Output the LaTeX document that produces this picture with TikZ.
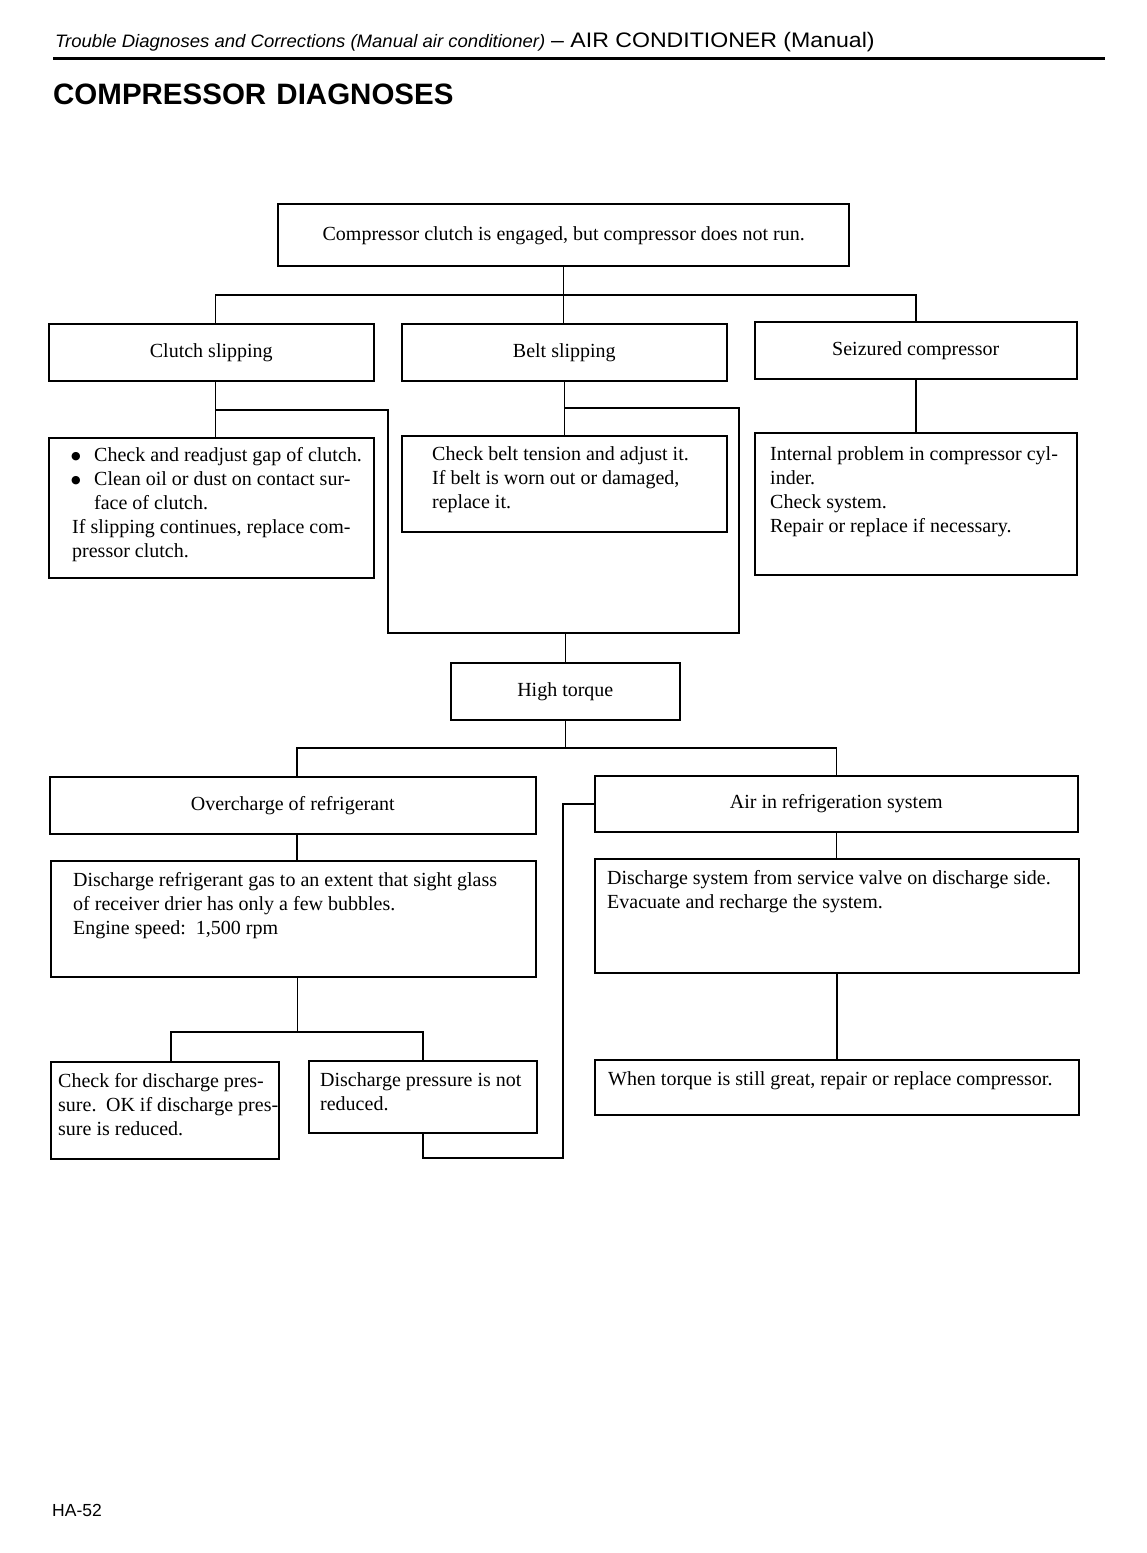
\documentclass[tikz,border=0pt]{standalone}
\usepackage{graphicx}
\usepackage{fontspec}
\setmainfont{Liberation Serif}
\newfontfamily\hdsans{Liberation Sans}
\newfontfamily\dgsym{DejaVu Sans}
\usetikzlibrary{calc}
\newcommand\dgbody{\fontsize{20}{24}\selectfont}
\newcommand\dgbul{\makebox[22pt][l]{\hspace*{-1pt}\raisebox{1.5pt}{\dgsym\fontsize{11}{11}\selectfont ●}}}
\begin{document}
\begin{tikzpicture}[x=1pt,y=-1pt,
  box/.style={draw, line width=1.6pt, inner sep=0pt, anchor=north west, font=\dgbody, text height=14pt, text depth=4pt},
  conn/.style={line width=1.5pt},
  txt/.style={anchor=base west, inner sep=0pt, font=\dgbody},
  hdr/.style={anchor=base west, inner sep=0pt}]
\fill[white] (0,0) rectangle (1147,1553);
\useasboundingbox (0,0) rectangle (1147,1553);

% header
\node[hdr, font=\hdsans\itshape\fontsize{18}{20}\selectfont] (hd1) at (55,47)
  {\scalebox{1.03}[1]{Trouble Diagnoses and Corrections (Manual air conditioner)}};
\node[hdr, font=\hdsans\fontsize{21}{24}\selectfont] (hd2) at (551,47)
  {\scalebox{1.1}[1]{– AIR CONDITIONER (Manual)}};
\draw[line width=2.2pt] (53,58.5) -- (1105,58.5);
\node[hdr, font=\hdsans\bfseries\fontsize{29.5}{32}\selectfont] (title) at (53,104) {COMPRESSOR\hspace{2pt} DIAGNOSES};
\node[hdr, font=\hdsans\fontsize{17.5}{20}\selectfont] (page) at (52,1516) {HA-52};

% boxes
\node[box, line width=2.4pt, minimum width=571pt, minimum height=62pt] (top) at (277,203)
  {Compressor clutch is engaged, but compressor does not run.};
\node[box, minimum width=325pt, minimum height=57pt] (cs) at (48,323) {Clutch slipping};
\node[box, minimum width=325pt, minimum height=57pt] (bs) at (401,323) {Belt slipping};
\node[box, minimum width=322pt, minimum height=57pt] (sc) at (754,321) {Seizured compressor};
\node[box, minimum width=325pt, minimum height=140pt] (csx) at (48,437) {};
\node[box, minimum width=325pt, minimum height=96pt] (bsx) at (401,435) {};
\node[box, minimum width=322pt, minimum height=142pt] (scx) at (754,432) {};
\node[box, minimum width=229pt, minimum height=57pt] (ht) at (450,662) {High torque};
\node[box, minimum width=486pt, minimum height=57pt] (oc) at (49,776) {Overcharge of refrigerant};
\node[box, minimum width=483pt, minimum height=56pt] (air) at (594,775) {Air in refrigeration system};
\node[box, minimum width=485pt, minimum height=116pt] (ocx) at (50,860) {};
\node[box, minimum width=484pt, minimum height=114pt] (airx) at (594,858) {};
\node[box, minimum width=228pt, minimum height=97pt] (ok) at (50,1061) {};
\node[box, minimum width=228pt, minimum height=72pt] (nr) at (308,1060) {};
\node[box, minimum width=484pt, minimum height=55pt] (wt) at (594,1059) {};

% box texts
\node[txt] (csxt) at (72,461) {\parbox[t]{300pt}{%
  \dgbul Check and readjust gap of clutch.\\
  \dgbul Clean oil or dust on contact sur-\\
  \hspace*{22pt}face of clutch.\\
  If slipping continues, replace com-\\
  pressor clutch.}};
\node[txt] (bsxt) at (432,460) {\parbox[t]{290pt}{%
  Check belt tension and adjust it.\\
  If belt is worn out or damaged,\\
  replace it.}};
\node[txt] (scxt) at (770,460) {\parbox[t]{300pt}{%
  Internal problem in compressor cyl-\\
  inder.\\
  Check system.\\
  Repair or replace if necessary.}};
\node[txt] (ocxt) at (73,886) {\parbox[t]{460pt}{%
  Discharge refrigerant gas to an extent that sight glass\\
  of receiver drier has only a few bubbles.\\
  Engine speed:\ \ 1,500 rpm}};
\node[txt] (airxt) at (607,884) {\parbox[t]{460pt}{%
  Discharge system from service valve on discharge side.\\
  Evacuate and recharge the system.}};
\node[txt] (okt) at (58,1087) {\parbox[t]{220pt}{%
  Check for discharge pres-\\
  sure.\ \ OK if discharge pres-\\
  sure is reduced.}};
\node[txt] (nrt) at (320,1086) {\parbox[t]{215pt}{%
  Discharge pressure is not\\
  reduced.}};
\node[txt] (wtt) at (608,1085) {\parbox[t]{470pt}{%
  When torque is still great, repair or replace compressor.}};

% junction coordinates
\coordinate (j1) at (top.south |- 0,295);
\coordinate (j2) at ([xshift=4pt]cs.south |- 0,410);
\coordinate (j3) at (bs.south |- 0,408);
\coordinate (lb) at (388,633);
\coordinate (rb) at (739,633);
\coordinate (j4) at (ht.north |- lb);
\coordinate (j5) at (ht.south |- 0,748);
\coordinate (j6) at ([xshift=4pt]ocx.south |- 0,1032);
\coordinate (j7) at (563,1158);

% connectors
\draw[conn] (top.south) -- (top.south |- bs.north);
\draw[conn] ([xshift=4pt]cs.north) |- (j1) -| (sc.north);
\draw[conn] ([xshift=4pt]cs.south) -- ([xshift=4pt]csx.north);
\draw[conn] (bs.south) -- (bs.south |- bsx.north);
\draw[conn] (sc.south) -- (sc.south |- scx.north);
\draw[conn] (j2) -| (lb) -- (rb) |- (j3);
\draw[conn] (j4) -- (ht.north);
\draw[conn] (ht.south) -- (j5);
\draw[conn] ([xshift=4pt]oc.north) |- (j5) -| (air.north);
\draw[conn] ([xshift=4pt]oc.south) -- ([xshift=4pt]oc.south |- ocx.north);
\draw[conn] (air.south) -- (air.south |- airx.north);
\draw[conn] ([xshift=4pt]ocx.south) -- (j6);
\draw[conn] ([xshift=6pt]ok.north) |- (j6) -| (nr.north);
\draw[conn] (nr.south) |- (j7) |- (air.west);
\draw[conn] (airx.south) -- (airx.south |- wt.north);
\end{tikzpicture}
\end{document}
